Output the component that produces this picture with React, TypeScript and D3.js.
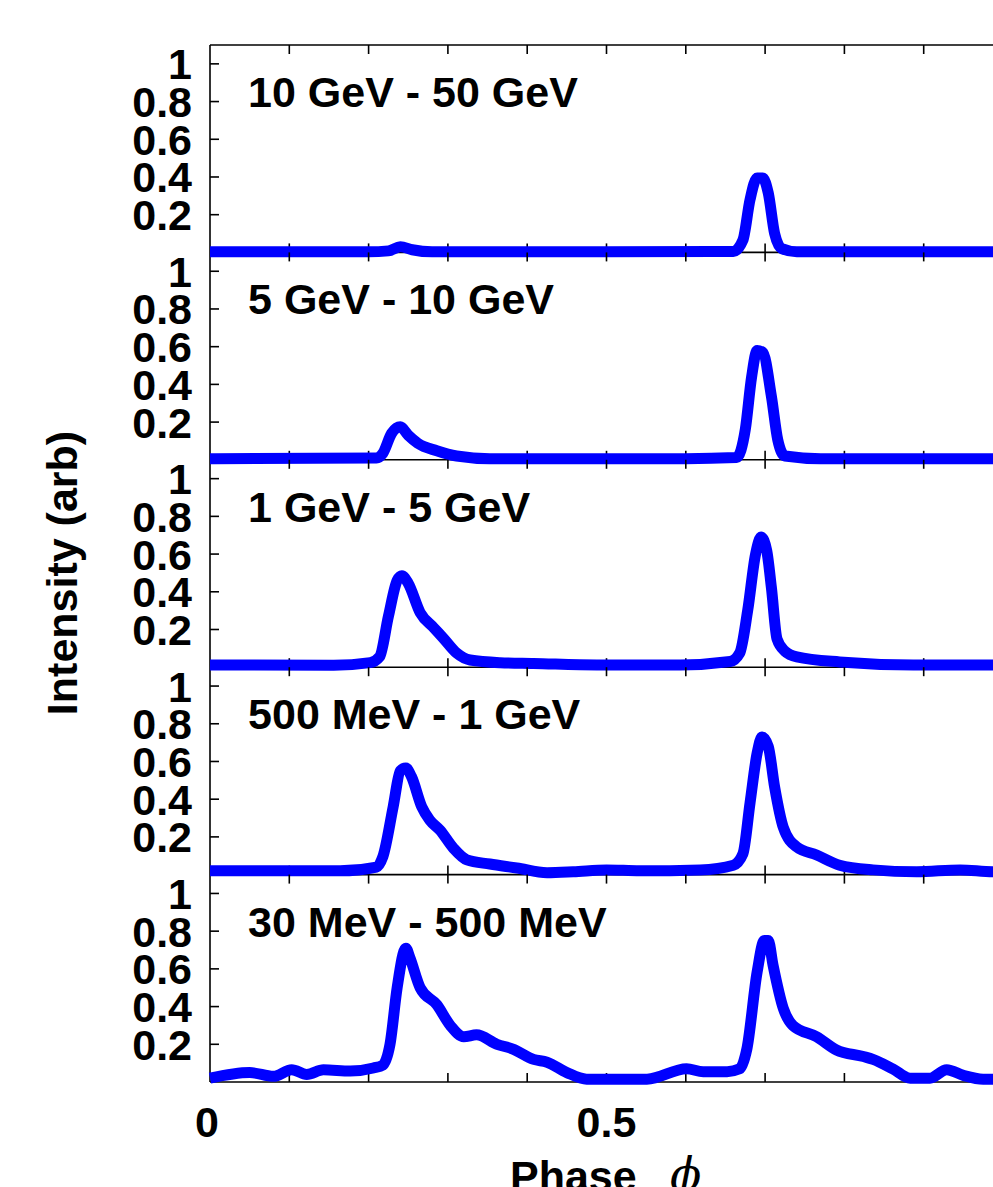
import { scaleLinear, line, curveMonotoneX } from 'd3'

// energy bands, top panel first
const bandLabels = [
  '10 GeV - 50 GeV',
  '5 GeV - 10 GeV',
  '1 GeV - 5 GeV',
  '500 MeV - 1 GeV',
  '30 MeV - 500 MeV',
]

// [phase, intensity]
const band10to50GeV: [number, number][] = [
  [0, 0.003], [0.2, 0.003], [0.225, 0.008], [0.24, 0.03], [0.255, 0.014], [0.28, 0.003],
  [0.5, 0.003], [0.66, 0.005], [0.672, 0.065], [0.681, 0.28], [0.69, 0.395], [0.697, 0.395],
  [0.704, 0.315], [0.712, 0.1], [0.721, 0.02], [0.74, 0.003], [1, 0.003],
]
const band5to10GeV: [number, number][] = [
  [0, 0.006], [0.21, 0.01], [0.218, 0.035], [0.229, 0.14], [0.24, 0.175], [0.25, 0.13],
  [0.262, 0.088], [0.286, 0.048], [0.311, 0.02], [0.353, 0.006], [0.6, 0.006], [0.664, 0.012],
  [0.675, 0.16], [0.683, 0.44], [0.69, 0.58], [0.697, 0.57], [0.708, 0.335], [0.716, 0.105],
  [0.725, 0.02], [0.77, 0.006], [1, 0.006],
]
const band1to5GeV: [number, number][] = [
  [0, 0.012], [0.156, 0.01], [0.202, 0.024], [0.214, 0.056], [0.225, 0.27], [0.236, 0.46],
  [0.242, 0.485], [0.25, 0.445], [0.265, 0.29], [0.282, 0.21], [0.294, 0.155], [0.311, 0.075],
  [0.328, 0.038], [0.366, 0.024], [0.408, 0.02], [0.488, 0.012], [0.593, 0.012], [0.656, 0.03],
  [0.668, 0.075], [0.678, 0.3], [0.688, 0.6], [0.695, 0.69], [0.702, 0.62], [0.708, 0.42],
  [0.715, 0.15], [0.725, 0.085], [0.74, 0.055], [0.794, 0.028], [0.887, 0.012], [1, 0.012],
]
const band500MeVto1GeV: [number, number][] = [
  [0, 0.02], [0.1, 0.02], [0.164, 0.02], [0.21, 0.04], [0.218, 0.095], [0.231, 0.36],
  [0.24, 0.55], [0.247, 0.565], [0.254, 0.52], [0.267, 0.36], [0.277, 0.29], [0.29, 0.236],
  [0.307, 0.14], [0.324, 0.078], [0.353, 0.056], [0.387, 0.035], [0.425, 0.01], [0.458, 0.015],
  [0.5, 0.025], [0.542, 0.02], [0.618, 0.025], [0.66, 0.05], [0.672, 0.11], [0.681, 0.38],
  [0.69, 0.645], [0.696, 0.73], [0.704, 0.68], [0.712, 0.465], [0.723, 0.25], [0.74, 0.146],
  [0.765, 0.104], [0.794, 0.05], [0.836, 0.025], [0.891, 0.015], [0.946, 0.025], [0.987, 0.015],
  [1, 0.015],
]
const band30to500MeV: [number, number][] = [
  [0, 0.02], [0.05, 0.05], [0.08, 0.03], [0.103, 0.065], [0.122, 0.04], [0.143, 0.065],
  [0.177, 0.058], [0.206, 0.074], [0.218, 0.09], [0.227, 0.2], [0.236, 0.5], [0.247, 0.71],
  [0.252, 0.66], [0.265, 0.5], [0.286, 0.41], [0.303, 0.3], [0.32, 0.24], [0.336, 0.25],
  [0.362, 0.2], [0.382, 0.175], [0.408, 0.12], [0.425, 0.105], [0.45, 0.05], [0.475, 0.015],
  [0.504, 0.015], [0.551, 0.015], [0.601, 0.07], [0.622, 0.055], [0.652, 0.055], [0.668, 0.07],
  [0.677, 0.175], [0.69, 0.585], [0.699, 0.75], [0.704, 0.75], [0.71, 0.62], [0.723, 0.39],
  [0.735, 0.3], [0.765, 0.24], [0.79, 0.17], [0.824, 0.135], [0.836, 0.12], [0.861, 0.07],
  [0.883, 0.02], [0.908, 0.02], [0.929, 0.065], [0.95, 0.035], [0.975, 0.015], [1, 0.015],
]
const bands = [band10to50GeV, band5to10GeV, band1to5GeV, band500MeVto1GeV, band30to500MeV]

const yTicks = [0.2, 0.4, 0.6, 0.8, 1]
const yTickLabels = ['0.2', '0.4', '0.6', '0.8', '1']
const xMinorTicks = [0.1, 0.2, 0.3, 0.4, 0.5, 0.6, 0.7, 0.8, 0.9]
const xTickValues = [0, 0.5, 1]
const xTickLabels = ['0', '0.5', '1']

const W = 993
const H = 1187
const top = 45
const panelH = 207.4
const plotLeft = 210
const plotRight = 1003
const tickLen = 9
const font = '"Liberation Sans", Arial, Helvetica, sans-serif'

export default function App() {
  const x = scaleLinear().domain([0, 1]).range([plotLeft, plotRight])
  const bottom = top + panelH * bands.length

  return (
    <svg
      width={W}
      height={H}
      style={{ position: 'absolute', left: 0, top: 0, background: '#fff' }}
      fontFamily={font}
      fontWeight="bold"
    >
      <rect width={W} height={H} fill="#fff" />
      {/* frame */}
      <line x1={plotLeft} x2={plotRight} y1={top} y2={top} stroke="#000" strokeWidth={1.6} />
      <line x1={plotLeft} x2={plotLeft} y1={top} y2={bottom} stroke="#000" strokeWidth={1.6} />
      <line x1={plotRight} x2={plotRight} y1={top} y2={bottom} stroke="#000" strokeWidth={1.6} />

      {bands.map((data, i) => {
        const pTop = top + i * panelH
        const pBot = pTop + panelH
        const y = scaleLinear().domain([0, 1.1]).range([pBot, pTop])
        const path = line<[number, number]>()
          .x((d) => x(d[0]))
          .y((d) => y(d[1]))
          .curve(curveMonotoneX)
        return (
          <g key={i}>
            <line x1={plotLeft} x2={plotRight} y1={pBot} y2={pBot} stroke="#000" strokeWidth={1.6} />
            {xMinorTicks.map((t) => (
              <g key={t}>
                <line x1={x(t)} x2={x(t)} y1={pTop} y2={pTop + tickLen} stroke="#000" strokeWidth={1.6} />
                <line x1={x(t)} x2={x(t)} y1={pBot} y2={pBot - tickLen} stroke="#000" strokeWidth={1.6} />
              </g>
            ))}
            {yTicks.map((t, j) => (
              <g key={t}>
                <line x1={plotLeft} x2={plotLeft + tickLen} y1={y(t)} y2={y(t)} stroke="#000" strokeWidth={1.6} />
                <line x1={plotRight} x2={plotRight - tickLen} y1={y(t)} y2={y(t)} stroke="#000" strokeWidth={1.6} />
                <text x={192} y={y(t)} dy="0.36em" textAnchor="end" fontSize={43} fill="#000">
                  {yTickLabels[j]}
                </text>
              </g>
            ))}
            <text x={x(0.048)} y={pTop + 62} fontSize={43} fill="#000">
              {bandLabels[i]}
            </text>
            <path
              d={path(data) ?? ''}
              fill="none"
              stroke="#0000ff"
              strokeWidth={11}
              strokeLinejoin="round"
              strokeLinecap="butt"
            />
          </g>
        )
      })}

      {xTickValues.map((t, i) => (
        <text key={t} x={x(t) - (t === 0 ? 3 : 0)} y={1137} textAnchor="middle" fontSize={43} fill="#000">
          {xTickLabels[i]}
        </text>
      ))}
      <text x={510} y={1191} fontSize={43} fill="#000">
        Phase
      </text>
      <text
        x={670}
        y={1191}
        fontSize={46}
        fill="#000"
        fontFamily='"DejaVu Serif", "Liberation Serif", serif'
        fontStyle="italic"
        fontWeight="normal"
      >
        ϕ
      </text>
      <text
        transform={`translate(77, 573) rotate(-90)`}
        textAnchor="middle"
        fontSize={43}
        fill="#000"
      >
        Intensity (arb)
      </text>
    </svg>
  )
}
